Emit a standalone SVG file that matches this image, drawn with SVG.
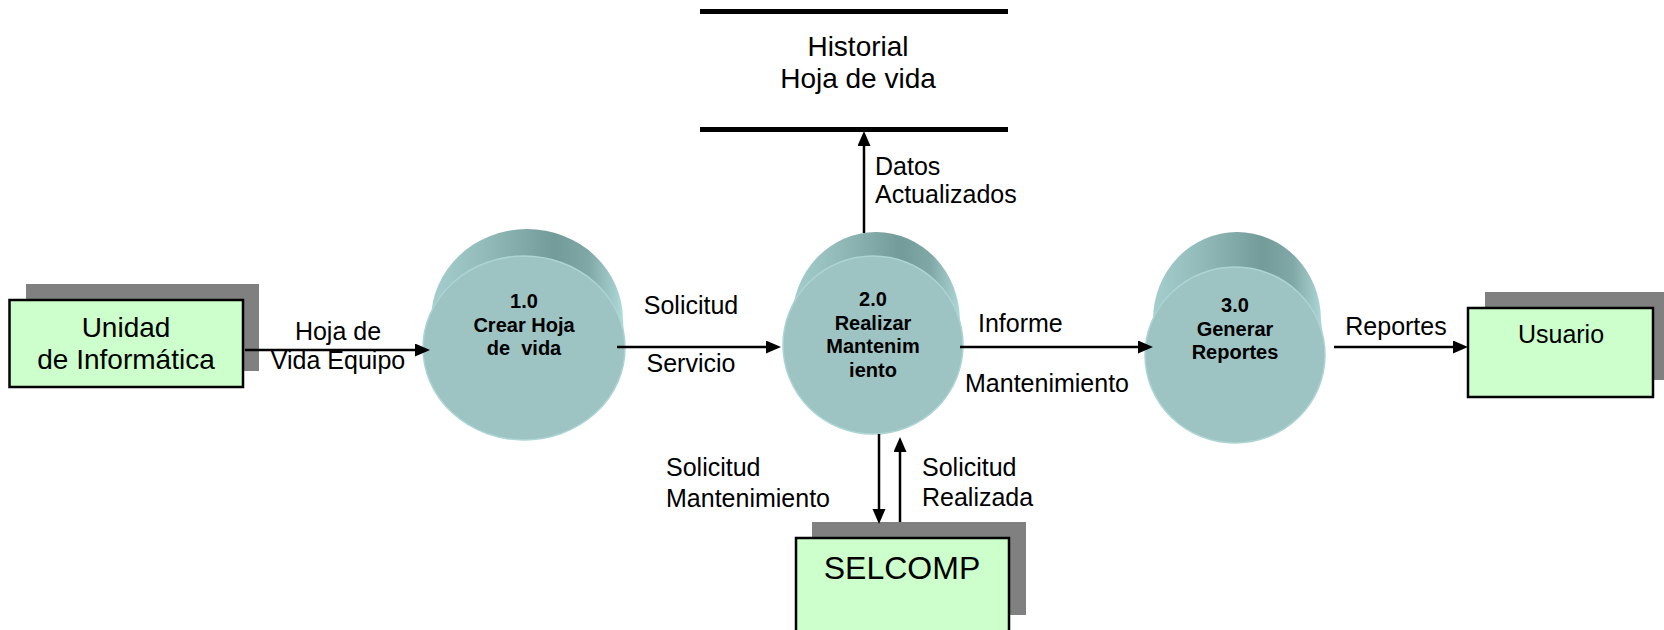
<svg xmlns="http://www.w3.org/2000/svg" width="1664" height="630" viewBox="0 0 1664 630">
  <defs>
    <style>
      .lbl { font-family: "Liberation Sans", Arial, sans-serif; font-size: 25px; fill: #000; }
      .big { font-family: "Liberation Sans", Arial, sans-serif; font-size: 28px; fill: #000; }
      .proc { font-family: "Liberation Sans", Arial, sans-serif; font-size: 20px; font-weight: bold; fill: #000; text-anchor: middle; }
      .ent { fill: #ccffcc; stroke: #000; stroke-width: 2.5; }
      .shadow { fill: #808080; }
      .side { fill: url(#sideGrad); }
      .face { fill: #9dc4c3; stroke: #acd4d3; stroke-width: 1.5; }
      .flow { stroke: #000; stroke-width: 2.5; fill: none; marker-end: url(#arrow); }
      .store { fill: #000; }
    </style>
    <linearGradient id="sideGrad" x1="0" y1="0" x2="1" y2="0">
      <stop offset="0" stop-color="#b0dcda"/>
      <stop offset="0.06" stop-color="#a3cdcc"/>
      <stop offset="0.3" stop-color="#92bbba"/>
      <stop offset="0.5" stop-color="#81a9a8"/>
      <stop offset="0.65" stop-color="#739b9a"/>
      <stop offset="0.82" stop-color="#80a8a7"/>
      <stop offset="0.95" stop-color="#a3cdcc"/>
      <stop offset="1" stop-color="#b4e0de"/>
    </linearGradient>
    <marker id="arrow" markerUnits="userSpaceOnUse" markerWidth="16" markerHeight="14" refX="5" refY="6.5" orient="auto">
      <path d="M0,0 L15,6.5 L0,13 z" fill="#000"/>
    </marker>
  </defs>

  <rect width="1664" height="630" fill="#ffffff"/>

  <!-- Data store -->
  <g id="store-historial">
    <rect class="store" x="700" y="9" width="308" height="5"/>
    <rect class="store" x="700" y="127" width="308" height="5"/>
    <text class="big" x="858" y="56" text-anchor="middle">Historial</text>
    <text class="big" x="858" y="88" text-anchor="middle">Hoja de vida</text>
  </g>

  <!-- External entities -->
  <g id="entity-unidad">
    <rect class="shadow" x="26" y="284" width="233" height="87"/>
    <rect class="ent" x="9.5" y="300" width="233.5" height="87"/>
    <text class="big" x="126" y="337" text-anchor="middle">Unidad</text>
    <text class="big" x="126" y="369" text-anchor="middle">de Informática</text>
  </g>

  <g id="entity-usuario">
    <rect class="shadow" x="1485" y="292" width="185" height="88"/>
    <rect class="ent" x="1468" y="308" width="185" height="89"/>
    <text class="lbl" x="1561" y="343" text-anchor="middle">Usuario</text>
  </g>

  <g id="entity-selcomp">
    <rect class="shadow" x="812" y="522" width="214" height="93"/>
    <rect class="ent" x="796" y="538" width="213" height="100"/>
    <text x="902" y="579" text-anchor="middle" font-family="Liberation Sans, Arial, sans-serif" font-size="32">SELCOMP</text>
  </g>

  <!-- Processes -->
  <g id="process-1">
    <path class="side" d="M423,348 L431,320 A96,91 0 0 1 623,320 L625,348 Z"/>
    <ellipse class="face" cx="524" cy="348" rx="101" ry="92"/>
    <text class="proc" x="524" y="308">1.0</text>
    <text class="proc" x="524" y="332">Crear Hoja</text>
    <text class="proc" x="524" y="355" xml:space="preserve">de  vida</text>
  </g>

  <g id="process-2">
    <path class="side" d="M783,345 L792,321 A84,89 0 0 1 960,321 L963,345 Z"/>
    <ellipse class="face" cx="873" cy="345" rx="90" ry="89"/>
    <text class="proc" x="873" y="306">2.0</text>
    <text class="proc" x="873" y="330">Realizar</text>
    <text class="proc" x="873" y="353">Mantenim</text>
    <text class="proc" x="873" y="377">iento</text>
  </g>

  <g id="process-3">
    <path class="side" d="M1145,355 L1153,320 A84,88 0 0 1 1321,320 L1325,355 Z"/>
    <ellipse class="face" cx="1235" cy="355" rx="90" ry="88"/>
    <text class="proc" x="1235" y="312">3.0</text>
    <text class="proc" x="1235" y="336">Generar</text>
    <text class="proc" x="1235" y="359">Reportes</text>
  </g>

  <!-- Connectors -->
  <g id="connectors">
    <line class="flow" x1="245" y1="350" x2="420" y2="350"/>
    <line class="flow" x1="617" y1="347" x2="771" y2="347"/>
    <line class="flow" x1="960" y1="347" x2="1143" y2="347"/>
    <line class="flow" x1="1334" y1="347" x2="1458" y2="347"/>
    <line class="flow" x1="864" y1="233" x2="864" y2="141"/>
    <line class="flow" x1="879" y1="434" x2="879" y2="514"/>
    <line class="flow" x1="900" y1="522" x2="900" y2="447"/>

    <text class="lbl" x="338" y="340" text-anchor="middle">Hoja de</text>
    <text class="lbl" x="338" y="369" text-anchor="middle">Vida Equipo</text>
    <text class="lbl" x="691" y="314" text-anchor="middle">Solicitud</text>
    <text class="lbl" x="691" y="372" text-anchor="middle">Servicio</text>
    <text class="lbl" x="978" y="332">Informe</text>
    <text class="lbl" x="965" y="392">Mantenimiento</text>
    <text class="lbl" x="1396" y="335" text-anchor="middle">Reportes</text>
    <text class="lbl" x="875" y="175">Datos</text>
    <text class="lbl" x="875" y="203">Actualizados</text>
    <text class="lbl" x="666" y="476">Solicitud</text>
    <text class="lbl" x="666" y="507">Mantenimiento</text>
    <text class="lbl" x="922" y="476">Solicitud</text>
    <text class="lbl" x="922" y="506">Realizada</text>
  </g>
</svg>
